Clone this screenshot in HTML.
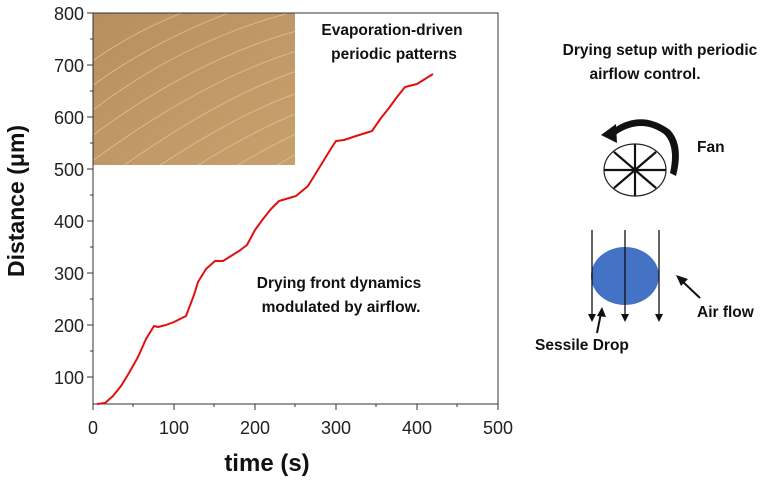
<!DOCTYPE html>
<html><head><meta charset="utf-8"><style>
body{margin:0;background:#fff;width:783px;height:481px;overflow:hidden}
svg text{font-family:"Liberation Sans",sans-serif}
.b{font-family:"Liberation Sans",sans-serif;font-weight:bold;font-size:15.5px}
</style></head><body>
<svg width="783" height="481" xmlns="http://www.w3.org/2000/svg">
<defs>
<linearGradient id="g" x1="0" y1="0" x2="1" y2="1"><stop offset="0" stop-color="#b88e60"/><stop offset="1" stop-color="#c8a06c"/></linearGradient>
<clipPath id="c"><rect x="93" y="13" width="202" height="152"/></clipPath>
</defs>
<rect x="93" y="13" width="202" height="152" fill="url(#g)"/>
<g clip-path="url(#c)" stroke="#e2c8a0" stroke-width="1" fill="none" opacity="0.7">
<path d="M80,120 Q180,40 300,10"/><path d="M80,145 Q190,60 300,30"/><path d="M80,170 Q200,80 300,50"/><path d="M90,190 Q210,100 300,70"/><path d="M110,200 Q220,120 300,92"/><path d="M130,210 Q230,140 300,112"/><path d="M150,220 Q240,160 300,132"/><path d="M175,230 Q250,180 300,152"/><path d="M80,95 Q170,25 300,-10"/><path d="M80,70 Q160,10 260,-10"/>
</g>
<path d="M93,165 L93,13 L498,13 L498,404 L93,404 L93,165" fill="none" stroke="#333" stroke-width="1"/>
<g stroke="#333" stroke-width="1">
<line x1="93" y1="404" x2="93" y2="410"/><line x1="174" y1="404" x2="174" y2="410"/><line x1="255" y1="404" x2="255" y2="410"/><line x1="336" y1="404" x2="336" y2="410"/><line x1="417" y1="404" x2="417" y2="410"/><line x1="498" y1="404" x2="498" y2="410"/>
<line x1="133" y1="404" x2="133" y2="407"/><line x1="214" y1="404" x2="214" y2="407"/><line x1="295" y1="404" x2="295" y2="407"/><line x1="376" y1="404" x2="376" y2="407"/><line x1="457" y1="404" x2="457" y2="407"/>
<line x1="87" y1="13" x2="93" y2="13"/><line x1="87" y1="65" x2="93" y2="65"/><line x1="87" y1="117" x2="93" y2="117"/><line x1="87" y1="169" x2="93" y2="169"/><line x1="87" y1="221" x2="93" y2="221"/><line x1="87" y1="273" x2="93" y2="273"/><line x1="87" y1="325" x2="93" y2="325"/><line x1="87" y1="377" x2="93" y2="377"/>
<line x1="90" y1="39" x2="93" y2="39"/><line x1="90" y1="91" x2="93" y2="91"/><line x1="90" y1="143" x2="93" y2="143"/><line x1="90" y1="195" x2="93" y2="195"/><line x1="90" y1="247" x2="93" y2="247"/><line x1="90" y1="299" x2="93" y2="299"/><line x1="90" y1="351" x2="93" y2="351"/>
</g>
<g font-size="18" fill="#222" text-anchor="end">
<text x="84" y="20">800</text><text x="84" y="72">700</text><text x="84" y="124">600</text><text x="84" y="176">500</text><text x="84" y="228">400</text><text x="84" y="280">300</text><text x="84" y="332">200</text><text x="84" y="384">100</text>
</g>
<g font-size="18" fill="#222" text-anchor="middle">
<text x="93" y="434">0</text><text x="174" y="434">100</text><text x="255" y="434">200</text><text x="336" y="434">300</text><text x="417" y="434">400</text><text x="498" y="434">500</text>
</g>
<text x="267" y="471" font-size="24" font-weight="bold" text-anchor="middle" fill="#111">time (s)</text>
<text transform="translate(24,201) rotate(-90)" font-size="23" font-weight="bold" text-anchor="middle" fill="#111">Distance (μm)</text>
<polyline fill="none" stroke="#e01010" stroke-width="2" stroke-linejoin="round" points="97,404 105,403 113,396 121,386 129,373 138,357 146,339 154,326 158,327 166,325 174,322 182,318 186,316 194,295 198,282 206,269 215,261 223,261 231,256 239,251 247,245 255,230 263,219 271,209 279,201 296,196 308,186 316,173 324,160 332,147 336,141 344,140 356,136 372,131 381,118 389,108 397,97 405,87 417,84 425,79 433,74"/>
<g class="b" fill="#111" text-anchor="middle">
<text x="392" y="35">Evaporation-driven</text><text x="394" y="59">periodic patterns</text>
<text x="339" y="288">Drying front dynamics</text><text x="341" y="312">modulated by airflow.</text>
<text x="660" y="55">Drying setup with periodic</text><text x="645" y="79">airflow control.</text>
</g>
<g class="b" fill="#111">
<text x="697" y="152">Fan</text><text x="697" y="317">Air flow</text><text x="535" y="350">Sessile Drop</text>
</g>
<ellipse cx="635" cy="170" rx="31" ry="26" fill="#fff" stroke="#222" stroke-width="1.2"/>
<g stroke="#111" stroke-width="2.2"><line x1="604" y1="170" x2="666" y2="170"/><line x1="635" y1="144" x2="635" y2="196"/><line x1="614" y1="152" x2="656" y2="188"/><line x1="614" y1="188" x2="656" y2="152"/></g>
<path d="M610,131 Q640,108 670,130 Q684,145 676,176 L670,173 Q676,146 664,134 Q640,117 614,136 Z" fill="#111"/>
<polygon points="601,135 616,124 617,143" fill="#111"/>
<ellipse cx="625" cy="276" rx="34" ry="29" fill="#4472c4"/>
<g stroke="#111" stroke-width="1.3"><line x1="592" y1="230" x2="592" y2="316"/><line x1="625" y1="230" x2="625" y2="316"/><line x1="659" y1="230" x2="659" y2="316"/></g>
<g fill="#111"><polygon points="588,314 596,314 592,322"/><polygon points="621,314 629,314 625,322"/><polygon points="655,314 663,314 659,322"/></g>
<line x1="700" y1="298" x2="681" y2="280" stroke="#111" stroke-width="2"/><polygon points="676,275 688,279 681,286" fill="#111"/>
<line x1="597" y1="333" x2="601" y2="313" stroke="#111" stroke-width="2"/><polygon points="602,307 606,317 597,316" fill="#111"/>
</svg>
</body></html>
